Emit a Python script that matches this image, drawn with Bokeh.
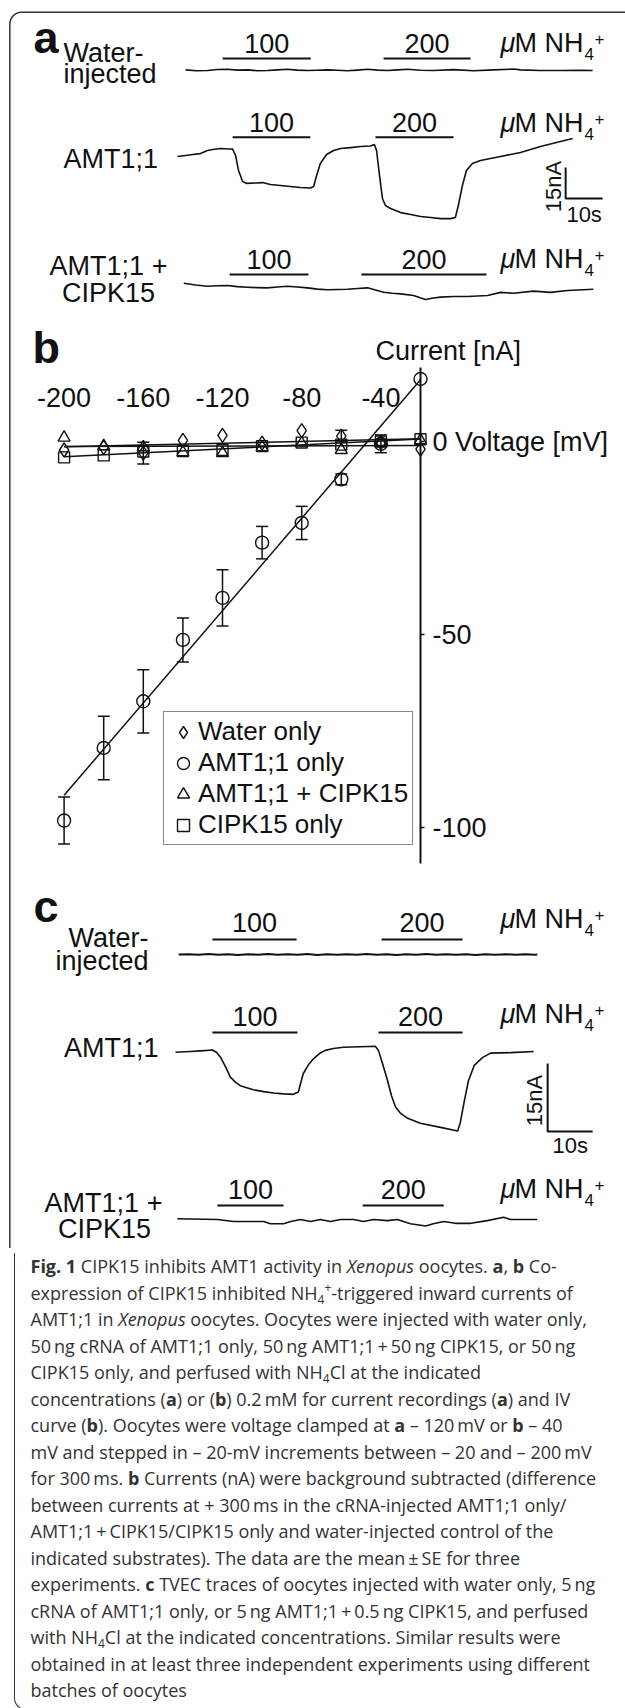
import numpy as np
from bokeh.plotting import figure
from bokeh.models import (Range1d, LinearAxis, FixedTicker, ColumnDataSource, Whisker,
                          TeeHead, Legend, LegendItem, Div)
from bokeh.layouts import column
from bokeh.core.properties import value
from bokeh.embed import file_html
from bokeh.resources import INLINE

# ======================= DATA =======================
conc_labels = ["100", "200"]

# ---- panel a : TEVC traces (time s, current nA) ----
a_water_t = [2.2, 5.1, 8.1, 10.8, 13.5, 16.2, 18.9, 21.6, 24.3, 27.0, 29.7, 32.4, 35.1, 37.8, 40.5,
             43.2, 45.9, 48.6, 51.4, 54.1, 56.8, 59.5, 62.2, 65.7, 69.2, 74.6, 80.0, 85.4, 90.8,
             92.7, 98.1, 103.5, 108.9, 112.2]
a_water_nA = [0.3, -0.1, 0.0, 0.5, 0.6, 0.2, 0.3, -0.1, 0.0, 0.3, 0.6, 0.2, 0.0, 0.1, 0.3,
              0.1, -0.1, 0.2, 0.6, 0.2, 0.0, 0.3, 0.6, 0.1, 0.0, 0.4, -0.1, 0.3, 0.7,
              0.3, 0.0, 0.0, 0.1, 0.0]
a_amt_t = [0.0, 2.2, 4.1, 6.2, 8.1, 9.5, 11.6, 13.8, 14.9, 15.7,
           16.5, 17.6, 18.6, 21.1, 23.0, 25.1, 27.8, 30.5, 33.2, 35.9,
           36.8, 37.6, 38.6, 40.3, 42.2, 44.1, 46.8, 49.5, 52.2, 53.2,
           53.8, 54.6, 55.4, 56.2, 57.6, 60.3, 63.0, 65.7, 68.4, 71.1,
           73.8, 75.1, 75.9, 77.0, 78.1, 79.7, 81.9, 84.6, 87.3, 92.7,
           98.1, 103.5, 106.8]
a_amt_nA = [0.0, 0.5, 1.0, 1.4, 2.9, 3.4, 3.9, 3.6, 3.6, 0.5,
            -6.8, -12.1, -13.0, -12.8, -12.6, -13.5, -14.0, -14.5, -15.0, -15.2,
            -14.5, -9.2, -3.4, 1.0, 2.9, 3.9, 4.3, 4.8, 5.1, 5.8,
            2.9, -9.2, -20.3, -23.7, -25.1, -27.1, -28.0, -29.0, -29.5, -30.0,
            -30.0, -29.5, -23.7, -14.0, -6.8, -3.4, -1.9, -1.0, 0.0, 1.9,
            4.8, 7.2, 8.7]
a_cipk_t = [1.7, 4.9, 8.1, 10.8, 13.5, 16.2, 18.9, 21.6, 24.3, 27.0, 29.7, 32.4, 35.1, 37.8, 40.5,
            43.2, 45.9, 48.6, 51.4, 53.5, 55.7, 58.1, 60.3, 63.8, 67.0, 69.2, 71.1, 74.6, 78.4,
            83.8, 87.3, 90.8, 96.2, 100.8, 105.4, 112.4]
a_cipk_nA = [0.1, -0.7, -1.3, -1.1, -1.0, -1.5, -1.8, -2.0, -2.1, -1.7, -1.3, -1.7, -2.1, -2.7, -3.0,
             -2.9, -2.8, -2.4, -2.1, -3.1, -4.2, -4.7, -5.0, -5.8, -7.7, -7.0, -6.6, -6.3, -6.3,
             -5.8, -4.3, -4.7, -3.7, -4.3, -3.4, -2.8]
# NH4+ application periods (s)
a_water_on, a_water_off = [12.2, 55.7], [36.0, 79.2]
a_amt_on, a_amt_off = [14.9, 53.5], [35.9, 74.6]
a_cipk_on, a_cipk_off = [14.1, 49.7], [35.4, 83.5]

# ---- panel b : I-V curves ----
voltage_mV = [-200, -180, -160, -140, -120, -100, -80, -60, -40, -20]
amt_only_nA = [-98.2, -79.4, -67.3, -51.4, -40.5, -26.2, -21.1, -9.8, -0.6, 16.2]
amt_only_se = [6.1, 8.2, 8.2, 5.7, 7.3, 4.2, 4.3, 1.4, 2.3, 0.5]
water_only_nA = [-2.2, -1.5, -3.0, 0.3, 1.6, -0.4, 2.8, 1.4, -0.3, -2.0]
water_only_se = [0.5, 0.5, 2.8, 0.5, 0.5, 0.5, 0.5, 1.5, 0.5, 0.5]
amt_cipk_nA = [1.0, -1.2, -1.5, -2.8, -3.0, -1.5, -0.5, -2.2, -0.4, 0.3]
amt_cipk_se = [0.5, 0.5, 0.5, 0.5, 0.5, 0.5, 0.5, 0.5, 0.5, 0.5]
cipk_only_nA = [-4.1, -3.6, -2.6, -2.5, -2.2, -1.2, -0.3, -0.8, 0.0, 0.6]
cipk_only_se = [0.5, 0.5, 0.5, 0.5, 0.5, 0.5, 0.5, 0.5, 0.5, 0.5]
x_ticks = [-200, -160, -120, -80, -40]
y_ticks = [0, -50, -100]

# ---- panel c : TEVC traces ----
c_water_t = [0.7, 2.9, 5.1, 7.3, 9.5, 11.7, 13.9, 16.1, 18.3, 20.5, 22.7, 24.9, 27.1, 29.3, 31.5,
             33.7, 35.9, 38.1, 40.3, 42.5, 44.7, 46.9, 49.1, 51.3, 53.5, 55.7, 57.9, 60.1, 62.3,
             64.5, 66.7, 68.9, 71.1, 73.3, 75.5, 77.7, 79.9, 80.4]
c_water_nA = [0.0, 0.08, -0.05, 0.1, -0.07, 0.05, -0.1, 0.07, -0.05, 0.1, -0.07, 0.05, -0.05, 0.1,
              -0.1, 0.07, -0.05, 0.05, -0.07, 0.1, -0.05, 0.07, -0.1, 0.05, -0.05, 0.1, -0.07, 0.05,
              -0.05, 0.07, -0.1, 0.05, -0.05, 0.07, -0.05, 0.05, -0.03, 0.0]
c_amt_t = [0.0, 3.3, 5.6, 8.2, 9.1, 10.0, 11.1, 12.2, 13.3, 14.4, 16.0, 17.3, 19.6, 21.8, 24.0,
           26.2, 27.3, 27.8, 28.4, 29.6, 30.7, 32.0, 33.3, 35.1, 37.3, 41.1, 44.4, 45.1, 46.0,
           47.1, 48.0, 48.9, 50.0, 51.6, 54.4, 58.9, 62.7, 63.3, 64.2, 65.1, 66.4, 68.2, 70.0,
           74.4, 79.6]
c_amt_nA = [0.0, 0.15, 0.3, 0.5, 0.0, -1.1, -3.2, -5.5, -6.6, -7.4, -7.9, -8.3, -8.7, -9.0, -9.2,
            -9.3, -8.8, -6.9, -4.7, -2.7, -1.4, -0.3, 0.4, 0.8, 1.1, 1.2, 1.3, 0.4, -2.5,
            -6.2, -9.6, -12.1, -13.5, -14.6, -15.7, -16.6, -17.4, -15.5, -10.7, -6.3, -2.9, -1.2, -0.2,
            -0.1, 0.15]
c_cipk_t = [0.4, 9.3, 12.9, 19.6, 21.1, 24.0, 25.6, 27.8, 30.0, 32.2, 34.4, 36.7, 39.6, 41.8,
            44.0, 47.1, 49.3, 52.2, 55.6, 57.3, 59.6, 62.2, 65.6, 69.3, 72.9, 74.4, 80.4]
c_cipk_nA = [0.0, -0.15, -0.6, -0.6, -1.1, -1.1, -0.6, -0.15, -0.6, -0.15, -0.6, -0.15, -0.15, -0.6,
             -0.15, -0.4, -0.15, -1.1, -1.6, -1.1, -0.6, -1.0, -1.0, -0.4, 0.35, -0.15, -0.15]
c_water_on, c_water_off = [8.2, 45.8], [26.9, 63.8]
c_amt_on, c_amt_off = [8.2, 45.1], [27.1, 63.8]
c_cipk_on, c_cipk_off = [9.3, 41.6], [24.0, 59.6]

# scale bars (value of each bar)
scale_nA, scale_s = 15, 10

for a, b in [(a_water_t, a_water_nA), (a_amt_t, a_amt_nA), (a_cipk_t, a_cipk_nA),
             (c_water_t, c_water_nA), (c_amt_t, c_amt_nA), (c_cipk_t, c_cipk_nA)]:
    assert len(a) == len(b)

# ======================= LAYOUT (page pixels; page y grows downward) =======================
X_LEFT, X_RIGHT = 0, 625
Y_TOP, Y_BOTTOM = 0, 1248
W, H = X_RIGHT - X_LEFT, Y_BOTTOM - Y_TOP
FONT = "Liberation Sans"
INK = "#111111"
MID = 0.35          # distance (in em) from the alphabetic baseline up to the text middle


def P(y):
    """page y (downward) -> main-range y (upward)"""
    return -y


def xr(x0_px, ppu):
    return Range1d((X_LEFT - x0_px) / ppu, (X_RIGHT - x0_px) / ppu)


def yr(y0_px, ppu):
    return Range1d((y0_px - Y_BOTTOM) / ppu, (y0_px - Y_TOP) / ppu)


p = figure(width=W, height=H, x_range=Range1d(X_LEFT, X_RIGHT), y_range=Range1d(-Y_BOTTOM, -Y_TOP),
           x_axis_type=None, y_axis_type=None, toolbar_location=None, output_backend="svg",
           min_border=0, outline_line_color=None, background_fill_color="white",
           border_fill_color="white")

A_PPS, A_PPN = 3.7, 2.07      # panel a: px per s, px per nA
C_PPS, C_PPN = 4.5, 4.53      # panel c
B_PPV, B_PPN = 1.98, 3.86     # panel b: px per mV, px per nA
p.extra_x_ranges = {"ta": xr(177, A_PPS), "tc": xr(175, C_PPS), "V": xr(420 + 20 * B_PPV, B_PPV)}
p.extra_y_ranges = {"a1": yr(70, A_PPN), "a2": yr(156, A_PPN), "a3": yr(283, A_PPN),
                    "c1": yr(954, C_PPN), "c2": yr(1051.7, C_PPN), "c3": yr(1218.3, C_PPN),
                    "I": yr(441, B_PPN)}


def txt(x, y, s, size=27, align="left", style="normal", **kw):
    """y is the page-pixel baseline of the text"""
    p.text(x=[x], y=[P(y - MID * size)], text=[s], text_font=value(FONT),
           text_font_size=f"{size}px", text_align=align, text_baseline="middle",
           text_font_style=style, text_color=INK, **kw)


def unit_label(y):
    txt(500, y, "\u03bc", style="italic")
    txt(514, y, "M NH")
    txt(584, y + 7, "4", size=17)
    txt(594, y - 8, "+", size=17)


def conc_bars(xname, on, off, bar_y, gap):
    n = len(on)
    p.segment(x0=on, x1=off, y0=[P(bar_y)] * n, y1=[P(bar_y)] * n, x_range_name=xname,
              line_color=INK, line_width=2)
    mids = [(a + b) / 2 for a, b in zip(on, off)]
    p.text(x=mids, y=[P(bar_y - gap - MID * 27)] * n, text=conc_labels, x_range_name=xname,
           text_font=value(FONT), text_font_size="27px", text_align="center",
           text_baseline="middle", text_color=INK)


def trace(xname, yname, t, i, lw=1.6):
    p.line(t, i, x_range_name=xname, y_range_name=yname, line_color=INK, line_width=lw,
           line_join="round")


def scale_bar(xname, yname, t0, i0, xoff, yoff, toff):
    p.line([t0, t0, t0 + scale_s], [i0 + scale_nA, i0, i0], x_range_name=xname, y_range_name=yname,
           line_color=INK, line_width=2)
    p.text(x=[t0], y=[i0 + scale_nA / 2], text=[f"{scale_nA}nA"], angle=np.pi / 2,
           x_range_name=xname, y_range_name=yname, text_font=value(FONT), text_font_size="22px",
           text_align="center", text_baseline="middle", x_offset=xoff - MID * 22, y_offset=yoff,
           text_color=INK)
    p.text(x=[t0 + scale_s / 2], y=[i0], text=[f"{scale_s}s"], x_range_name=xname,
           y_range_name=yname, text_font=value(FONT), text_font_size="22px", text_align="center",
           text_baseline="middle", y_offset=toff - MID * 22, text_color=INK)


# ---- frame border (top-left rounded corner) ----
r = 12
th = np.linspace(np.pi, 1.5 * np.pi, 24)
bx = [9.3] + list(9.3 + r + r * np.cos(th)) + [X_RIGHT + 5]
by = [P(Y_BOTTOM + 5)] + [P(11.7 + r + r * s) for s in np.sin(th)] + [P(11.7)]
p.line(bx, by, line_color="#333333", line_width=1.5)

# ======================= PANEL A =======================
txt(33, 53, "a", size=45, style="bold")
txt(63, 62, "Water-")
txt(63, 83, "injected")
txt(63, 168, "AMT1;1")
txt(108, 275, "AMT1;1 +", align="center")
txt(108, 302, "CIPK15", align="center")
conc_bars("ta", a_water_on, a_water_off, 58, 6)
conc_bars("ta", a_amt_on, a_amt_off, 136.7, 5)
conc_bars("ta", a_cipk_on, a_cipk_off, 274, 6)
for yb in (52, 132, 268):
    unit_label(yb)
trace("ta", "a1", a_water_t, a_water_nA)
trace("ta", "a2", a_amt_t, a_amt_nA)
trace("ta", "a3", a_cipk_t, a_cipk_nA)
scale_bar("ta", "a2", 104.9, -20.3, -4, 3.5, 24)

# ======================= PANEL B =======================
txt(32, 363, "b", size=45, style="bold")
txt(375, 360, "Current [nA]")

V = np.array(voltage_mV, dtype=float)
series = [
    ("Water only", water_only_nA, water_only_se, "diamond", 14),
    ("AMT1;1 only", amt_only_nA, amt_only_se, "circle", 13),
    ("AMT1;1 + CIPK15", amt_cipk_nA, amt_cipk_se, "triangle", 12),
    ("CIPK15 only", cipk_only_nA, cipk_only_se, "square", 11),
]
legend_items = []
for label, ys, se, mk, sz in series:
    ys = np.array(ys, dtype=float)
    se = np.array(se, dtype=float)
    coef = np.polyfit(V, ys, 1)
    vx = np.array([V.min(), V.max()])
    p.line(vx, np.polyval(coef, vx), x_range_name="V", y_range_name="I", line_color=INK,
           line_width=1.5)
    keep = se >= 1.0
    if keep.any():
        src = ColumnDataSource(dict(x=V[keep], lo=(ys - se)[keep], hi=(ys + se)[keep]))
        w = Whisker(source=src, base="x", lower="lo", upper="hi", dimension="height",
                    x_range_name="V", y_range_name="I", line_color=INK, line_width=1.5,
                    upper_head=TeeHead(size=12, line_color=INK, line_width=1.5),
                    lower_head=TeeHead(size=12, line_color=INK, line_width=1.5))
        p.add_layout(w)
    rr = p.scatter(V, ys, marker=mk, size=sz, fill_alpha=0, line_color=INK, line_width=1.4,
                   x_range_name="V", y_range_name="I")
    legend_items.append(LegendItem(label=label, renderers=[rr]))

yax = LinearAxis(x_range_name="V", y_range_name="I", fixed_location=-20,
                 ticker=FixedTicker(ticks=y_ticks), bounds=(-109.3, 19.2),
                 major_label_overrides={0: "0 Voltage [mV]", -50: "-50", -100: "-100"},
                 axis_line_width=2, axis_line_color=INK, major_tick_in=0, major_tick_out=4,
                 major_tick_line_width=1.5, major_tick_line_color=INK,
                 minor_tick_in=0, minor_tick_out=0,
                 major_label_text_font=FONT, major_label_text_font_size="27px",
                 major_label_standoff=8, major_label_text_color=INK)
p.add_layout(yax, "right")
xax = LinearAxis(x_range_name="V", y_range_name="I", fixed_location=0,
                 ticker=FixedTicker(ticks=x_ticks),
                 major_label_overrides={t: str(t) for t in x_ticks},
                 axis_line_color=None, major_tick_line_color=None, minor_tick_line_color=None,
                 major_tick_in=0, major_tick_out=0, minor_tick_in=0, minor_tick_out=0,
                 major_label_text_font=FONT, major_label_text_font_size="27px",
                 major_label_standoff=35, major_label_text_color=INK)
p.add_layout(xax, "above")

legend = Legend(items=legend_items, location=(163 - X_LEFT, Y_BOTTOM - 845),
                border_line_color=INK, border_line_width=1.5, background_fill_color="white",
                background_fill_alpha=1, padding=4, spacing=0, margin=0,
                label_text_font=FONT, label_text_font_size="26px", label_text_color=INK,
                glyph_width=30, glyph_height=30, label_height=30, label_standoff=0)
p.add_layout(legend, "center")

# ======================= PANEL C =======================
txt(33, 922, "c", size=45, style="bold")
txt(148, 947, "Water-", align="right")
txt(148, 970, "injected", align="right")
txt(158, 1057, "AMT1;1", align="right")
txt(103, 1212, "AMT1;1 +", align="center")
txt(104, 1238, "CIPK15", align="center")
conc_bars("tc", c_water_on, c_water_off, 939, 8)
conc_bars("tc", c_amt_on, c_amt_off, 1032, 7)
conc_bars("tc", c_cipk_on, c_cipk_off, 1205, 7)
for yb in (928, 1023, 1198):
    unit_label(yb)
trace("tc", "c1", c_water_t, c_water_nA, lw=2)
trace("tc", "c2", c_amt_t, c_amt_nA)
trace("tc", "c3", c_cipk_t, c_cipk_nA)
scale_bar("tc", "c2", 82.7, -17.5, -5, 3, 22)

# ======================= CAPTION =======================
TS = "&#8201;"
SUB = '<span style="font-size:12px;position:relative;top:4px;">4</span>'
SUP = '<span style="font-size:12px;position:relative;top:-8px;">+</span>'
lines = [
    f"<b>Fig. 1</b> CIPK15 inhibits AMT1 activity in <i>Xenopus</i> oocytes. <b>a</b>, <b>b</b> Co-",
    f"expression of CIPK15 inhibited NH{SUB}{SUP}-triggered inward currents of",
    f"AMT1;1 in <i>Xenopus</i> oocytes. Oocytes were injected with water only,",
    f"50{TS}ng cRNA of AMT1;1 only, 50{TS}ng AMT1;1{TS}+{TS}50{TS}ng CIPK15, or 50{TS}ng",
    f"CIPK15 only, and perfused with NH{SUB}Cl at the indicated",
    f"concentrations (<b>a</b>) or (<b>b</b>) 0.2{TS}mM for current recordings (<b>a</b>) and IV",
    f"curve (<b>b</b>). Oocytes were voltage clamped at <b>a</b> \u2013 120{TS}mV or <b>b</b> \u2013 40",
    f"mV and stepped in \u2013 20-mV increments between \u2013 20 and \u2013 200{TS}mV",
    f"for 300{TS}ms. <b>b</b> Currents (nA) were background subtracted (difference",
    f"between currents at + 300{TS}ms in the cRNA-injected AMT1;1 only/",
    f"AMT1;1{TS}+{TS}CIPK15/CIPK15 only and water-injected control of the",
    f"indicated substrates). The data are the mean{TS}\u00b1{TS}SE for three",
    f"experiments. <b>c</b> TVEC traces of oocytes injected with water only, 5{TS}ng",
    f"cRNA of AMT1;1 only, or 5{TS}ng AMT1;1{TS}+{TS}0.5{TS}ng CIPK15, and perfused",
    f"with NH{SUB}Cl at the indicated concentrations. Similar results were",
    f"obtained in at least three independent experiments using different",
    f"batches of oocytes",
]
CAP_H = 1708 - H
body = "".join('<div style="height:26.5px;line-height:26.5px;white-space:nowrap;">%s</div>' % ln
               for ln in lines)
html = ('<div style="box-sizing:border-box;width:640px;height:%dpx;margin-left:8.5px;'
        'border-left:1.5px solid #333;border-bottom:1.5px solid #333;'
        'border-bottom-left-radius:12px;padding-left:16px;'
        'font-family:\'Open Sans\';font-size:18px;line-height:26.5px;color:#333;'
        'overflow:hidden;">%s</div>') % (CAP_H - 3, body)
div = Div(text=html, width=W, height=CAP_H, styles={"overflow": "hidden"})

layout = column(p, div, spacing=0)
open("out.html", "w").write(file_html(layout, INLINE))
